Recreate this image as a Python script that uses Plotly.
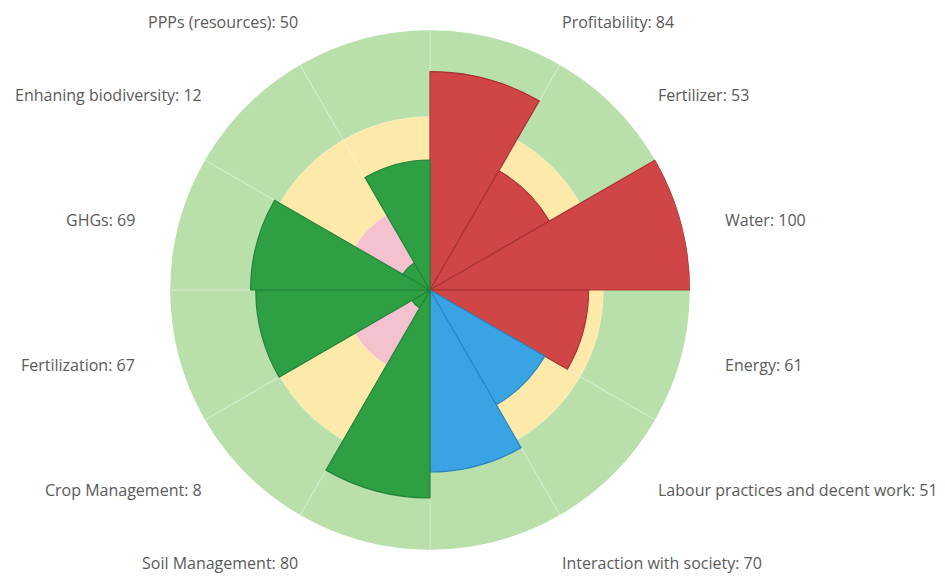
import math
import plotly.graph_objects as go

categories = ["Profitability", "Fertilizer", "Water", "Energy",
              "Labour practices and decent work", "Interaction with society",
              "Soil Management", "Crop Management", "Fertilization", "GHGs",
              "Enhaning biodiversity", "PPPs (resources)"]
values = [84, 53, 100, 61, 51, 70, 80, 8, 67, 69, 12, 50]
groups = ["econ", "econ", "econ", "econ", "social", "social",
          "env", "env", "env", "env", "env", "env"]
band_limits = [100, 66.7, 33.3]

fill = {"econ": "#d04545", "social": "#3aa3e3", "env": "#2ea043"}
edge = {"econ": "#a83232", "social": "#2b86c0", "env": "#23843a"}
band_colors = ["#b9e0aa", "#fde9a9", "#f3c2ce"]

n = len(categories)
step = 360 / n
thetas = [step / 2 + step * i for i in range(n)]

fig = go.Figure()
for lim, col in zip(band_limits, band_colors):
    fig.add_trace(go.Barpolar(
        r=[lim] * n, theta=thetas, width=[step] * n,
        marker=dict(color=col, line=dict(color="rgba(255,255,255,0.3)", width=1)),
        hoverinfo="skip", showlegend=False))

fig.add_trace(go.Barpolar(
    r=values, theta=thetas, width=[step] * n,
    marker=dict(color=[fill[g] for g in groups],
                line=dict(color=[edge[g] for g in groups], width=1.2)),
    text=categories, hovertemplate="%{text}: %{r}<extra></extra>",
    showlegend=False))

W, H = 945, 576
off = 8  # page body margin
cx, cy, R = 430 - off, 290 - off, 260
label_cy, label_r = cy + 2.5, 280

annotations = []
for cat, val, th in zip(categories, values, thetas):
    a = math.radians(th)
    s, c = math.sin(a), math.cos(a)
    ypx = label_cy - label_r * c
    side = 1 if s > 0 else -1
    sa = abs(s)
    xpx = cx + side * (86 + 153 * sa + 63 * sa * sa)
    annotations.append(dict(
        x=xpx / W, y=1 - ypx / H, xref="paper", yref="paper",
        text=f"{cat}: {val}", showarrow=False,
        xanchor="left" if side > 0 else "right", yanchor="middle",
        font=dict(family="Open Sans", size=16, color="#5a5a5a")))

fig.update_layout(
    width=W, height=H,
    margin=dict(l=0, r=0, t=0, b=0),
    paper_bgcolor="white",
    polar=dict(
        domain=dict(x=[(cx - R) / W, (cx + R) / W],
                    y=[1 - (cy + R) / H, 1 - (cy - R) / H]),
        bgcolor="white",
        barmode="overlay",
        bargap=0,
        radialaxis=dict(range=[0, 100], visible=False, showgrid=False),
        angularaxis=dict(direction="clockwise", rotation=90, showgrid=False,
                         showticklabels=False, ticks="", showline=False),
    ),
    annotations=annotations,
)

fig.write_html("out.html")
